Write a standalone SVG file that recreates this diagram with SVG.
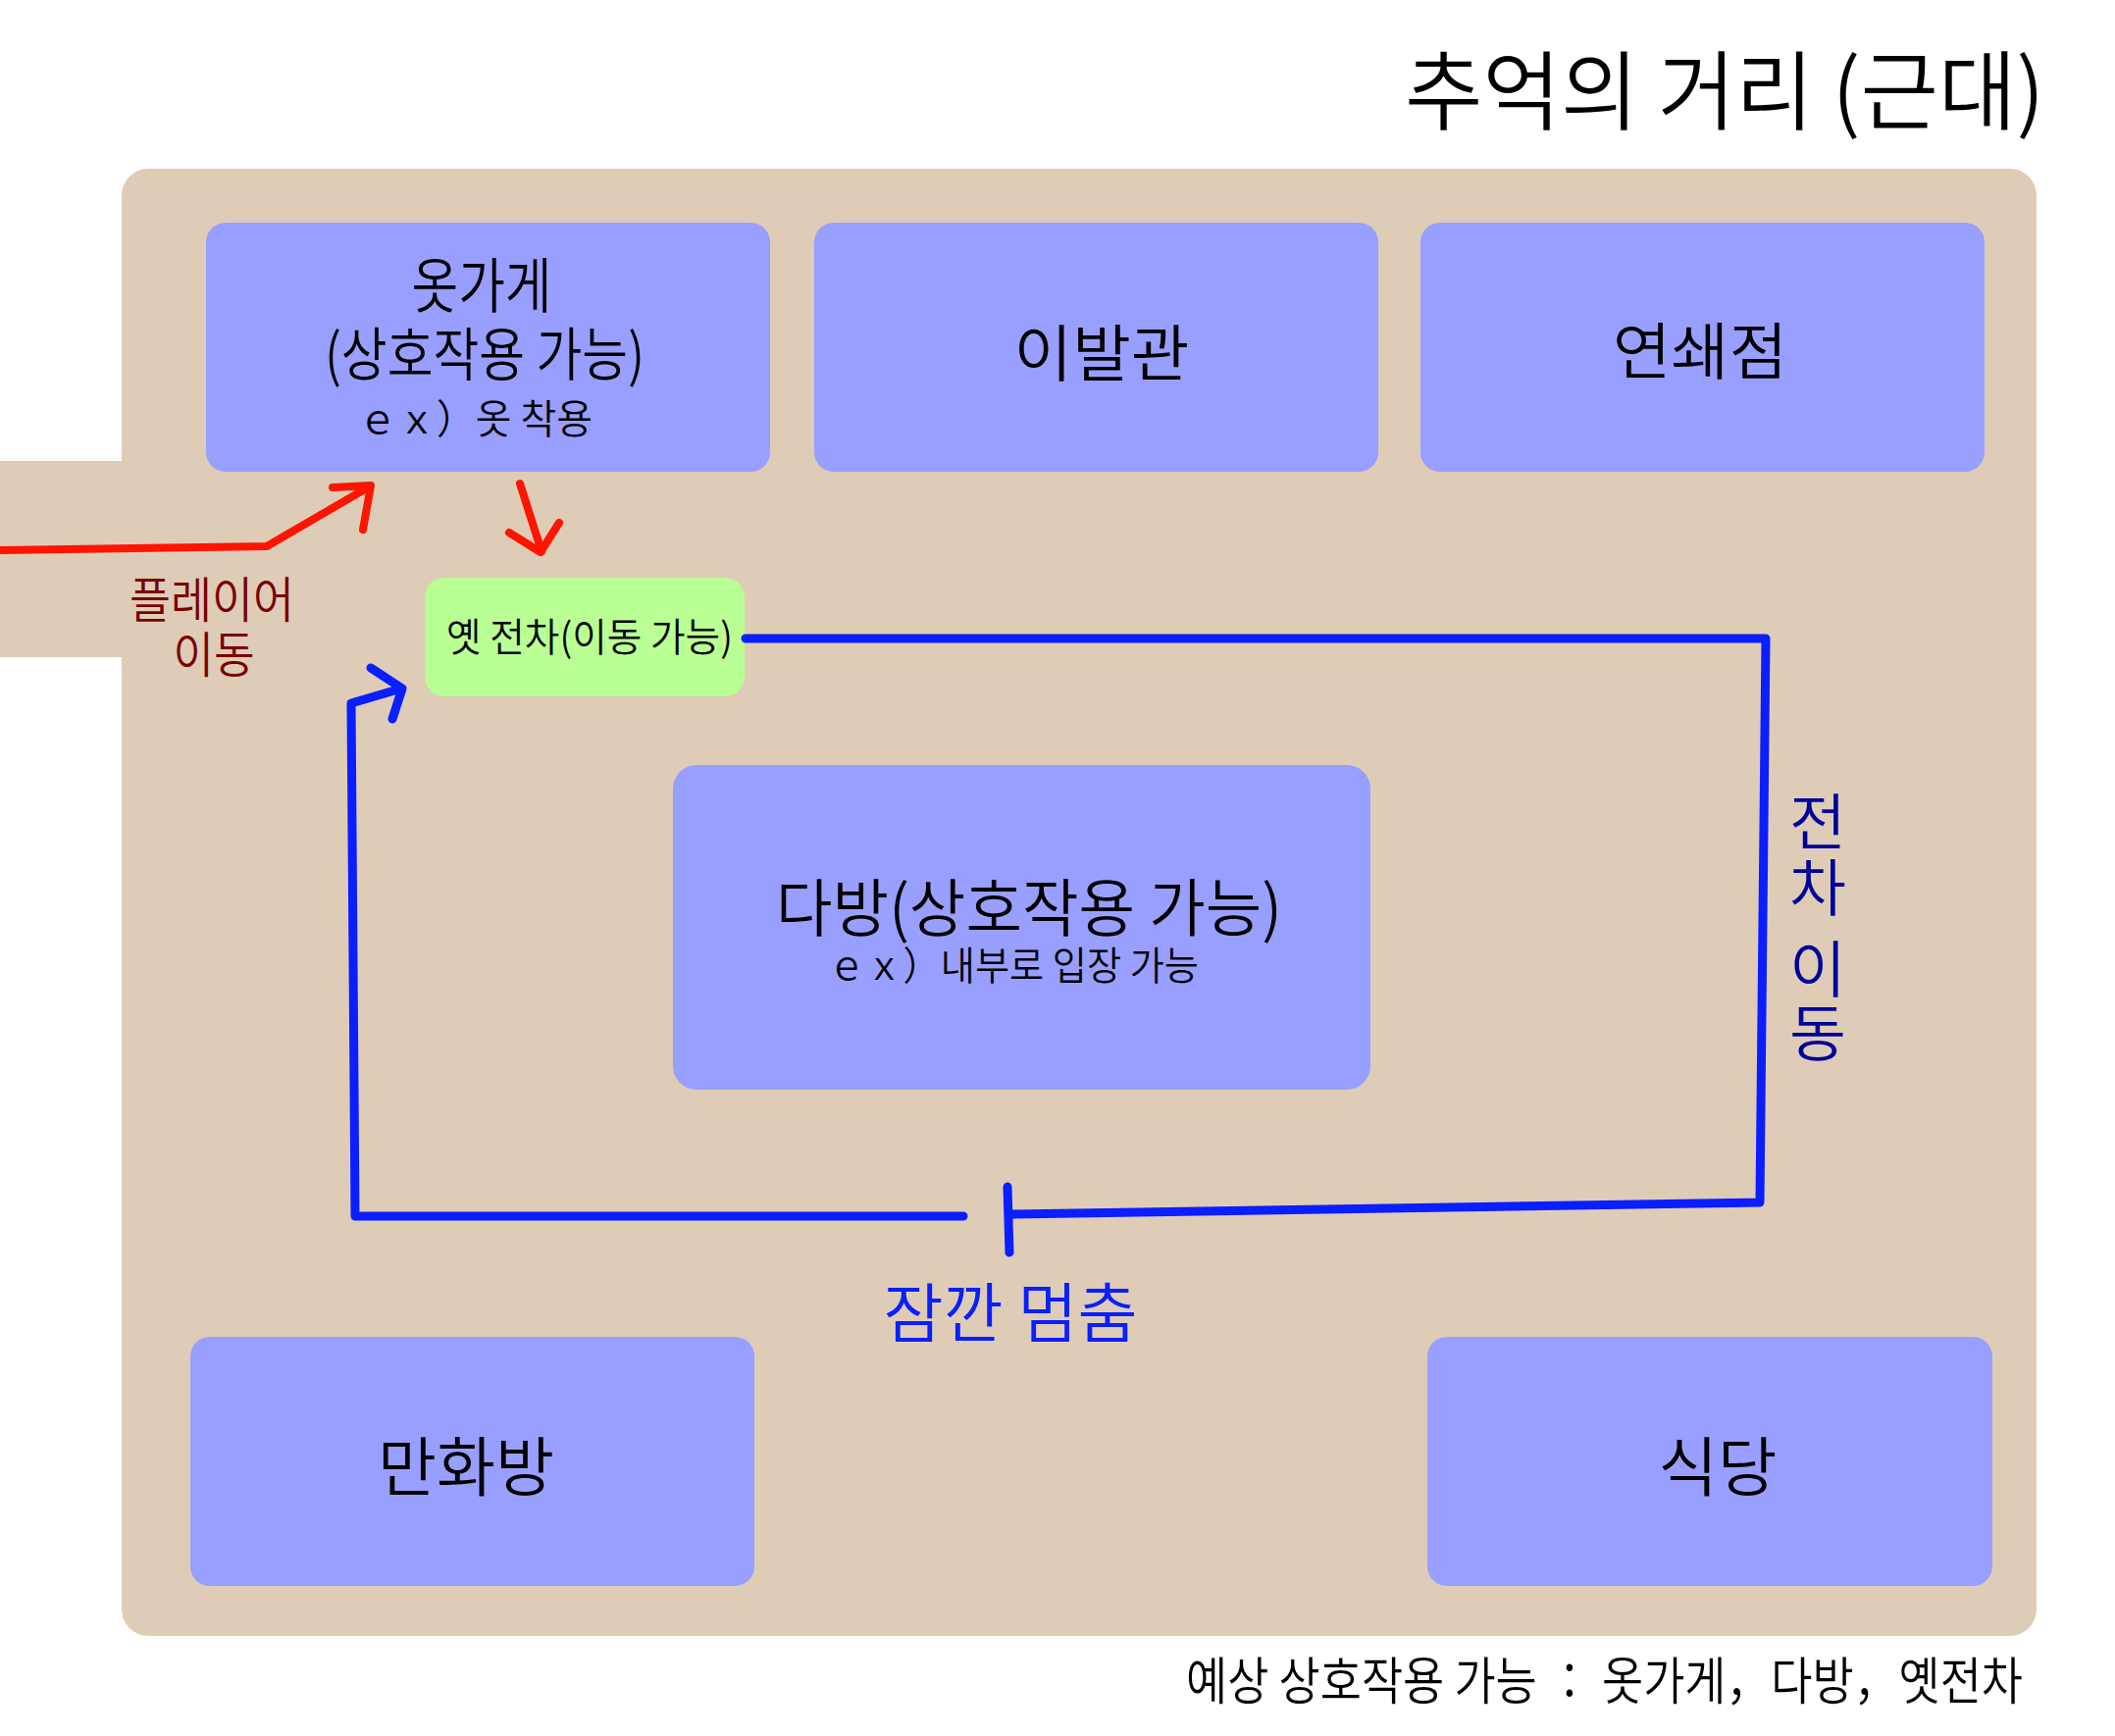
<svg xmlns="http://www.w3.org/2000/svg" width="2156" height="1770" viewBox="0 0 2156 1770">
<style>
text{font-family:"Noto Sans CJK KR","Noto Sans",sans-serif;fill:#000;font-weight:350;}
.room{fill:#999FFF;}
.tram{fill:#B9FF93;}
.blue{fill:none;stroke:#0A1EFF;stroke-width:9;stroke-linecap:round;stroke-linejoin:round;}
.red{fill:none;stroke:#FF1400;stroke-width:8;stroke-linecap:round;stroke-linejoin:round;}
.mid{text-anchor:middle;}
</style>
<rect width="2156" height="1770" fill="#fff"/>
<g id="title"><text x="1432" y="125" font-size="88" textLength="652" lengthAdjust="spacingAndGlyphs">추억의 거리 (근대)</text></g>
<g id="street">
<rect x="124" y="172" width="1952" height="1496" rx="27" fill="#DECCB7"/>
<rect x="0" y="470" width="140" height="200" fill="#DECCB7"/>
</g>
<g id="clothes">
<rect class="room" x="210" y="227" width="575" height="254" rx="20"/>
<text class="mid" x="491" y="314" font-size="61" textLength="143" lengthAdjust="spacingAndGlyphs">옷가게</text>
<text class="mid" x="494" y="383" font-size="59" textLength="326" lengthAdjust="spacingAndGlyphs">(상호작용 가능)</text>
<text x="365" y="442" font-size="41" textLength="239" lengthAdjust="spacingAndGlyphs">ｅｘ）옷 착용</text>
</g>
<g id="barber">
<rect class="room" x="830" y="227" width="575" height="254" rx="20"/>
<text class="mid" x="1123" y="383" font-size="63" textLength="179" lengthAdjust="spacingAndGlyphs">이발관</text>
</g>
<g id="chainstore">
<rect class="room" x="1448" y="227" width="575" height="254" rx="20"/>
<text class="mid" x="1733" y="381" font-size="63" textLength="178" lengthAdjust="spacingAndGlyphs">연쇄점</text>
</g>
<g id="teahouse">
<rect class="room" x="686" y="780" width="711" height="331" rx="24"/>
<text class="mid" x="1049" y="949" font-size="64" textLength="516" lengthAdjust="spacingAndGlyphs">다방(상호작용 가능)</text>
<text x="844" y="999" font-size="40" textLength="378" lengthAdjust="spacingAndGlyphs">ｅｘ）내부로 입장 가능</text>
</g>
<g id="tram">
<rect class="tram" x="433" y="589" width="326" height="121" rx="20"/>
<text class="mid" x="601" y="664" font-size="40" textLength="292" lengthAdjust="spacingAndGlyphs">옛 전차(이동 가능)</text>
</g>
<g id="comic">
<rect class="room" x="194" y="1363" width="575" height="254" rx="20"/>
<text class="mid" x="475" y="1520" font-size="66" textLength="180" lengthAdjust="spacingAndGlyphs">만화방</text>
</g>
<g id="restaurant">
<rect class="room" x="1455" y="1363" width="576" height="254" rx="20"/>
<text class="mid" x="1751" y="1520" font-size="66" textLength="121" lengthAdjust="spacingAndGlyphs">식당</text>
</g>
<g id="connectors">
<path class="red" d="M0,561 L272,557 L375,497"/>
<path class="red" d="M339,497 L378,495 L370,540"/>
<path class="red" d="M530,493 L552,562"/>
<path class="red" d="M519,543 L551,563 L570,533"/>
<path class="blue" d="M760,651 L1800,651 L1794,1226 L1033,1238"/>
<path class="blue" d="M1027,1210 L1029,1277"/>
<path class="blue" d="M982,1240 L362,1240 L358,717 L409,702"/>
<path class="blue" d="M378,681 L410,702 L400,733"/>
</g>
<g id="labels">
<text class="mid" x="216" y="630" font-size="50" style="fill:#7A0000" textLength="168" lengthAdjust="spacingAndGlyphs">플레이어</text>
<text class="mid" x="218" y="686" font-size="50" style="fill:#7A0000" textLength="83" lengthAdjust="spacingAndGlyphs">이동</text>
<text class="mid" x="1030" y="1363" font-size="66" style="fill:#0A1EFF" textLength="259" lengthAdjust="spacingAndGlyphs">잠깐 멈춤</text>
<g font-size="63">
<text class="mid" x="1853" y="861" style="fill:#000099">전</text>
<text class="mid" x="1853" y="928" style="fill:#000099">차</text>
<text class="mid" x="1853" y="1011" style="fill:#000099">이</text>
<text class="mid" x="1853" y="1076" style="fill:#000099">동</text>
</g>
</g>
<g id="footer"><text x="1209" y="1733" font-size="52" textLength="853" lengthAdjust="spacingAndGlyphs">예상 상호작용 가능 ： 옷가게，다방，옛전차</text></g>
</svg>
